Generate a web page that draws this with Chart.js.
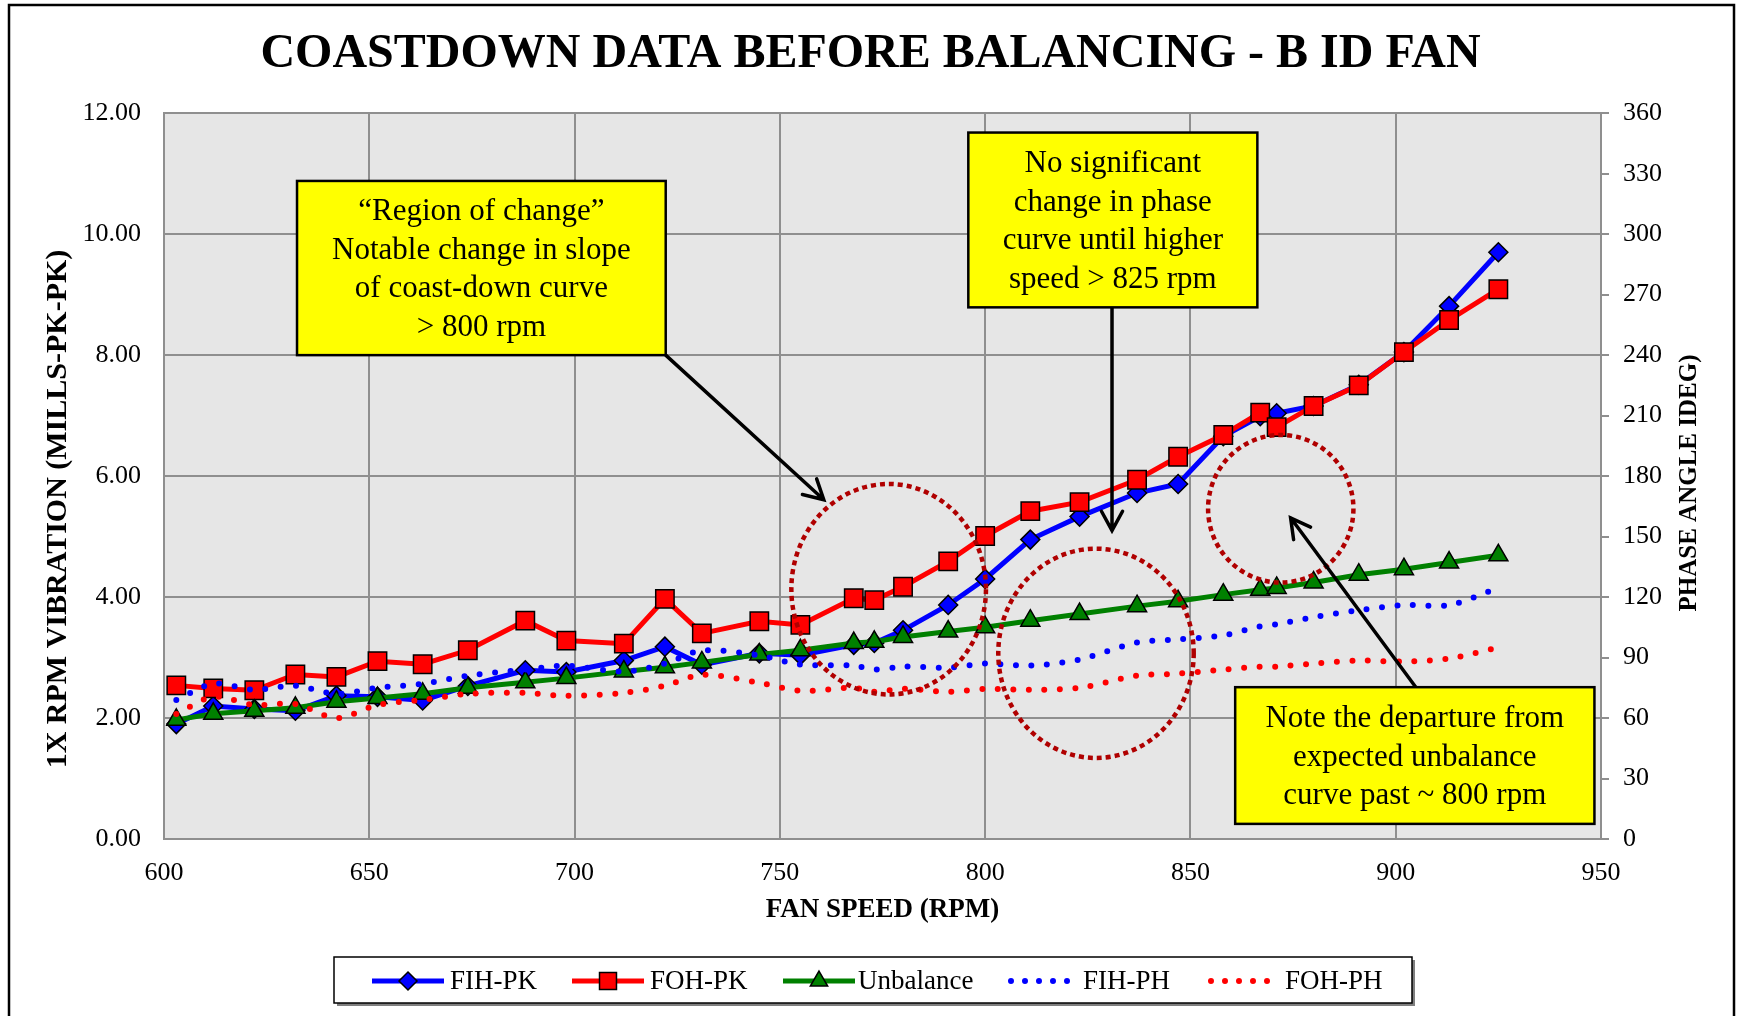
<!DOCTYPE html>
<html>
<head>
<meta charset="utf-8">
<script src="https://cdn.jsdelivr.net/npm/chart.js@4.4.1/dist/chart.umd.min.js"></script>
<style>
html,body{margin:0;padding:0;background:#fff;}
canvas{display:block;}
</style>
</head>
<body>
<canvas id="c" width="1741" height="1016" style="width:1741px;height:1016px"></canvas>
<script>
// ---------- DATA ----------
const rpm = [603, 612, 622, 632, 642, 652, 663, 674, 688, 698, 712, 722, 731, 745, 755, 768, 773, 780, 791, 800, 811, 823, 837, 847, 858, 867, 871, 880, 891, 902, 913, 925];
const fihPk = [1.90, 2.20, 2.15, 2.12, 2.37, 2.35, 2.29, 2.53, 2.79, 2.76, 2.95, 3.18, 2.88, 3.07, 3.04, 3.21, 3.24, 3.45, 3.87, 4.30, 4.95, 5.33, 5.72, 5.87, 6.66, 6.99, 7.04, 7.16, 7.51, 8.05, 8.81, 9.70];
const fohPk = [2.54, 2.49, 2.46, 2.72, 2.68, 2.94, 2.89, 3.12, 3.61, 3.28, 3.23, 3.97, 3.40, 3.60, 3.54, 3.98, 3.95, 4.17, 4.59, 5.01, 5.42, 5.57, 5.94, 6.32, 6.68, 7.05, 6.81, 7.16, 7.50, 8.05, 8.58, 9.09];
const unbalance = [1.97, 2.07, 2.12, 2.17, 2.27, 2.33, 2.40, 2.50, 2.59, 2.66, 2.77, 2.84, 2.92, 3.05, 3.12, 3.24, 3.26, 3.34, 3.43, 3.50, 3.61, 3.72, 3.85, 3.93, 4.04, 4.12, 4.15, 4.24, 4.37, 4.46, 4.57, 4.69];
const fihPh = [69, 77, 74, 76, 72, 75, 77, 81, 84, 86, 83, 87, 93.5, 91, 86.5, 86, 84, 85.5, 85, 87, 86, 89, 97.5, 99, 101, 105.5, 106.5, 110, 113.5, 116, 116, 124.5];
const fohPh = [62, 70.5, 66.5, 67, 60, 66.5, 69, 72, 72.5, 71, 72.5, 76, 81.5, 77.5, 73.5, 75, 73, 74.5, 73, 74.5, 74, 75, 81, 82, 84, 85.5, 85.5, 87, 88.5, 88, 89.5, 95];

const xTicks = [600, 650, 700, 750, 800, 850, 900, 950];
const leftTicks = [0, 2, 4, 6, 8, 10, 12];
const rightTicks = [0, 30, 60, 90, 120, 150, 180, 210, 240, 270, 300, 330, 360];

const seriesNames = ['FIH-PK', 'FOH-PK', 'Unbalance', 'FIH-PH', 'FOH-PH'];
const chartTitle = 'COASTDOWN DATA BEFORE BALANCING - B ID FAN';
const xTitle = 'FAN SPEED (RPM)';
const yTitle = '1X RPM VIBRATION (MILLS-PK-PK)';
const y1Title = 'PHASE ANGLE IDEG)';

const noteTexts = [
  ['\u201CRegion of change\u201D', 'Notable change in slope', 'of coast-down curve', '> 800 rpm'],
  ['No significant', 'change in phase', 'curve until higher', 'speed > 825 rpm'],
  ['Note the departure from', 'expected unbalance', 'curve past ~ 800 rpm']
];

// ---------- annotation geometry (data units: rpm, left-axis value) ----------
const noteBoxes = [
  {x0: 632.4, x1: 722.2, y0: 8.00, y1: 10.88},
  {x0: 795.9, x1: 866.3, y0: 8.79, y1: 11.68},
  {x0: 860.9, x1: 948.4, y0: 0.25, y1: 2.51}
];
const noteArrows = [
  {x0: 722.2, y0: 8.00, x1: 760.7, y1: 5.61},
  {x0: 830.9, y0: 8.79, x1: 830.9, y1: 5.10},
  {x0: 904.9, y0: 2.51, x1: 874.4, y1: 5.31}
];
const noteRings = [
  {cx: 776.5, cy: 4.13, rx: 23.7, ry: 1.74},
  {cx: 827.0, cy: 3.07, rx: 23.8, ry: 1.73},
  {cx: 872.0, cy: 5.46, rx: 17.7, ry: 1.22}
];

// ---------- styles ----------
const SERIF = '"Liberation Serif", "Times New Roman", serif';
const GRID = '#8f8f8f';
const colors = ['#0000FF', '#FF0000', '#008000', '#0000FF', '#FF0000'];

function pts(arr) { return rpm.map((x, i) => ({x: x, y: arr[i]})); }

function marker(ctx, style, x, y, r, fill) {
  ctx.save();
  ctx.fillStyle = fill; ctx.strokeStyle = '#000'; ctx.lineWidth = 1.5; ctx.setLineDash([]);
  ctx.beginPath();
  if (style === 'rectRot') {
    ctx.moveTo(x, y - r); ctx.lineTo(x + r, y); ctx.lineTo(x, y + r); ctx.lineTo(x - r, y);
  } else if (style === 'rect') {
    const s = r * Math.SQRT1_2;
    ctx.rect(x - s, y - s, 2 * s, 2 * s);
  } else {
    const h = r * Math.sqrt(3) / 2;
    ctx.moveTo(x, y - r); ctx.lineTo(x + h, y + r / 2); ctx.lineTo(x - h, y + r / 2);
  }
  ctx.closePath(); ctx.fill(); ctx.stroke();
  ctx.restore();
}

const deco = {
  id: 'deco',
  beforeDraw(chart) {
    const {ctx, chartArea: a} = chart;
    ctx.save();
    ctx.fillStyle = '#fff';
    ctx.fillRect(0, 0, chart.width, chart.height);
    ctx.fillStyle = '#E6E6E6';
    ctx.fillRect(a.left, a.top, a.right - a.left, a.bottom - a.top);
    ctx.restore();
  },
  afterDatasetsDraw(chart) {
    const {ctx} = chart;
    const sx = chart.scales.x, sy = chart.scales.y;
    const X = v => sx.getPixelForValue(v), Y = v => sy.getPixelForValue(v);
    ctx.save();
    // dotted rings
    ctx.strokeStyle = '#B00000';
    ctx.lineWidth = 4.5;
    ctx.setLineDash([5, 4]);
    ctx.lineCap = 'butt';
    noteRings.forEach(r => {
      const cx = X(r.cx), cy = Y(r.cy);
      const rx = X(r.cx + r.rx) - cx, ry = cy - Y(r.cy + r.ry);
      ctx.beginPath();
      ctx.ellipse(cx, cy, rx, ry, 0, 0, Math.PI * 2);
      ctx.stroke();
    });
    ctx.setLineDash([]);
    // arrows
    ctx.strokeStyle = '#000';
    ctx.lineWidth = 3.5;
    ctx.lineCap = 'round';
    noteArrows.forEach(a => {
      const x0 = X(a.x0), y0 = Y(a.y0), x1 = X(a.x1), y1 = Y(a.y1);
      const ang = Math.atan2(y1 - y0, x1 - x0);
      const L = 22, spread = 0.5;
      ctx.beginPath();
      ctx.moveTo(x0, y0); ctx.lineTo(x1, y1);
      ctx.moveTo(x1 - L * Math.cos(ang - spread), y1 - L * Math.sin(ang - spread));
      ctx.lineTo(x1, y1);
      ctx.lineTo(x1 - L * Math.cos(ang + spread), y1 - L * Math.sin(ang + spread));
      ctx.stroke();
    });
    // boxes
    noteBoxes.forEach((b, i) => {
      const l = X(b.x0), r = X(b.x1), t = Y(b.y1), btm = Y(b.y0);
      ctx.fillStyle = '#FFFF00';
      ctx.fillRect(l, t, r - l, btm - t);
      ctx.lineWidth = 2.5; ctx.strokeStyle = '#000';
      ctx.strokeRect(l, t, r - l, btm - t);
      const lines = noteTexts[i];
      const lh = 38.5;
      ctx.fillStyle = '#000';
      ctx.font = '31px ' + SERIF;
      ctx.textAlign = 'center';
      ctx.textBaseline = 'middle';
      const cy = (t + btm) / 2 + 2;
      lines.forEach((s, k) => {
        ctx.fillText(s, (l + r) / 2, cy + (k - (lines.length - 1) / 2) * lh);
      });
    });
    ctx.restore();
  },
  afterDraw(chart) {
    const {ctx} = chart;
    ctx.save();
    // y-axis titles
    ctx.fillStyle = '#000';
    ctx.textAlign = 'center';
    ctx.textBaseline = 'middle';
    ctx.save();
    ctx.translate(58, 509);
    ctx.rotate(-Math.PI / 2);
    ctx.font = 'bold 30px ' + SERIF;
    ctx.fillText(yTitle, 0, 0);
    ctx.restore();
    ctx.save();
    ctx.translate(1690, 483);
    ctx.rotate(-Math.PI / 2);
    ctx.font = 'bold 25px ' + SERIF;
    ctx.fillText(y1Title, 0, 0);
    ctx.restore();

    // legend box
    const lx = 334, ly = 957, lw = 1078, lh = 46;
    ctx.fillStyle = '#7f7f7f';
    ctx.fillRect(lx + 3, ly + 3, lw, lh);
    ctx.fillStyle = '#fff';
    ctx.fillRect(lx, ly, lw, lh);
    ctx.strokeStyle = '#000'; ctx.lineWidth = 1.5;
    ctx.strokeRect(lx, ly, lw, lh);
    const items = [
      {x: 372, tx: 450, style: 'rectRot', r: 9},
      {x: 572, tx: 650, style: 'rect', r: 12},
      {x: 783, tx: 858, style: 'triangle', r: 10},
      {x: 1008, tx: 1083, style: null},
      {x: 1208, tx: 1285, style: null}
    ];
    const cy = 981;
    items.forEach((it, i) => {
      ctx.save();
      ctx.strokeStyle = colors[i];
      if (it.style) {
        ctx.lineWidth = 5; ctx.lineCap = 'butt'; ctx.setLineDash([]);
      } else {
        ctx.lineWidth = 6; ctx.lineCap = 'round'; ctx.setLineDash([0, 14]);
      }
      ctx.beginPath();
      ctx.moveTo(it.x + (it.style ? 0 : 3), cy); ctx.lineTo(it.x + 72, cy);
      ctx.stroke();
      ctx.restore();
      if (it.style) marker(ctx, it.style, it.x + 36, cy, it.r, colors[i]);
      ctx.fillStyle = '#000';
      ctx.font = '27px ' + SERIF;
      ctx.textAlign = 'left';
      ctx.textBaseline = 'middle';
      ctx.fillText(seriesNames[i], it.tx, cy + 1);
    });

    // outer border
    ctx.strokeStyle = '#000';
    ctx.lineWidth = 2.5;
    ctx.setLineDash([]);
    ctx.strokeRect(9, 5, 1725, 1100);
    ctx.restore();
  }
};

const pkCommon = {type: 'line', borderWidth: 5, pointBorderColor: '#000', pointBorderWidth: 1.5, pointHoverRadius: 0, tension: 0, yAxisID: 'y'};
const phCommon = {type: 'line', borderWidth: 6, borderDash: [0, 15.5], borderCapStyle: 'round', pointRadius: 0, pointHoverRadius: 0, tension: 0.3, yAxisID: 'y1'};

new Chart(document.getElementById('c'), {
  type: 'line',
  data: {
    datasets: [
      Object.assign({}, pkCommon, {label: seriesNames[0], data: pts(fihPk), borderColor: colors[0], pointBackgroundColor: colors[0], pointStyle: 'rectRot', pointRadius: 9.5, order: 5}),
      Object.assign({}, pkCommon, {label: seriesNames[1], data: pts(fohPk), borderColor: colors[1], pointBackgroundColor: colors[1], pointStyle: 'rect', pointRadius: 13, order: 4}),
      Object.assign({}, pkCommon, {label: seriesNames[2], data: pts(unbalance), borderColor: colors[2], pointBackgroundColor: colors[2], pointStyle: 'triangle', pointRadius: 11, order: 3}),
      Object.assign({}, phCommon, {label: seriesNames[3], data: pts(fihPh), borderColor: colors[3], order: 2}),
      Object.assign({}, phCommon, {label: seriesNames[4], data: pts(fohPh), borderColor: colors[4], order: 1})
    ]
  },
  options: {
    responsive: false,
    devicePixelRatio: 1,
    animation: false,
    events: [],
    layout: {padding: 0},
    plugins: {
      legend: {display: false},
      tooltip: {enabled: false},
      title: {
        display: true,
        text: chartTitle,
        color: '#000',
        font: {family: SERIF, size: 48, weight: 'bold'},
        padding: {top: 26, bottom: 29.6}
      }
    },
    scales: {
      x: {
        type: 'linear', position: 'bottom', min: 600, max: 950,
        afterBuildTicks: s => { s.ticks = xTicks.map(v => ({value: v})); },
        afterFit: s => { s.height = 177; },
        grid: {color: GRID, lineWidth: 2, drawTicks: false},
        border: {color: GRID, width: 2},
        ticks: {color: '#000', font: {family: SERIF, size: 26}, padding: 19, maxRotation: 0},
        title: {display: true, text: xTitle, color: '#000', font: {family: SERIF, size: 27, weight: 'bold'}, padding: {top: 0, bottom: 90}}
      },
      y: {
        type: 'linear', position: 'left', min: 0, max: 12,
        afterBuildTicks: s => { s.ticks = leftTicks.map(v => ({value: v})); },
        afterFit: s => { s.width = 164; },
        grid: {color: GRID, lineWidth: 2, drawTicks: false},
        border: {color: GRID, width: 2},
        ticks: {color: '#000', font: {family: SERIF, size: 26}, padding: 23, callback: v => Number(v).toFixed(2)}
      },
      y1: {
        type: 'linear', position: 'right', min: 0, max: 360,
        afterBuildTicks: s => { s.ticks = rightTicks.map(v => ({value: v})); },
        afterFit: s => { s.width = 140; },
        grid: {color: GRID, lineWidth: 2, drawOnChartArea: false, drawTicks: true, tickLength: 8},
        border: {color: GRID, width: 2},
        ticks: {color: '#000', font: {family: SERIF, size: 26}, padding: 14}
      }
    }
  },
  plugins: [deco]
});
</script>
</body>
</html>
